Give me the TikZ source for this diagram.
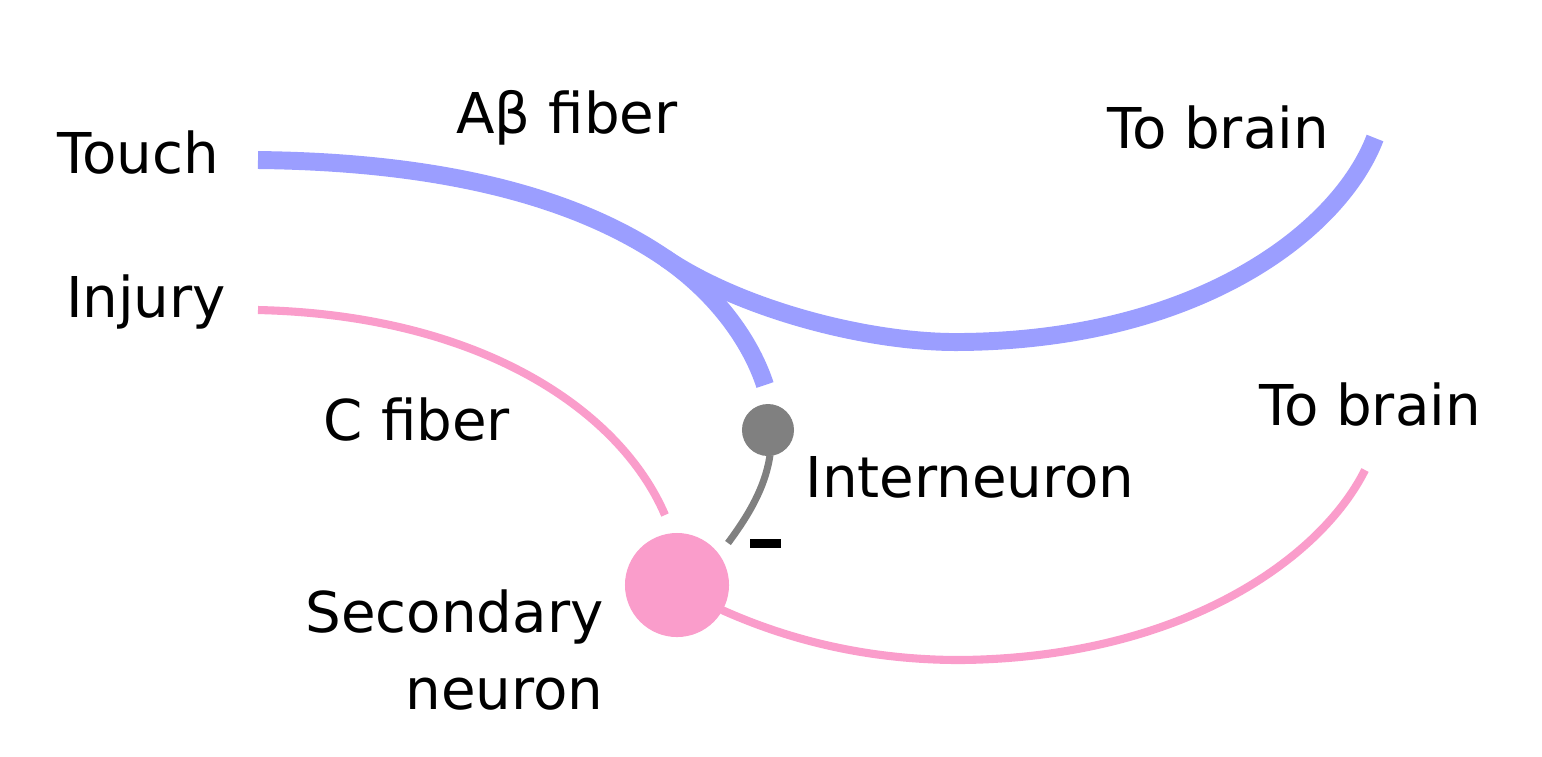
\documentclass[tikz,border=0pt]{standalone}
\usepackage{fontspec}
\setmainfont{DejaVu Sans}
\definecolor{touchblue}{HTML}{9B9EFF}
\definecolor{painpink}{HTML}{FA9DCB}
\definecolor{intergray}{HTML}{808080}
\begin{document}
\begin{tikzpicture}[x=0.01cm,y=-0.01cm,
    lbl/.style={font=\fontsize{16}{22}\selectfont,align=center},
    afiber/.style={touchblue,line width=5.1pt},
    cfiber/.style={painpink,line width=2.3pt},
    inter/.style={intergray,line width=2pt}]
    \useasboundingbox (0,0) rectangle (1542,756);

    % Labels
    \node[lbl] (touch) at (138,153) {Touch};
    \node[lbl] (afib) at (567,118) {Aβ fiber};
    \node[lbl] (brainA) at (1218,128) {To brain};
    \node[lbl] (injury) at (146,302) {Injury};
    \node[lbl] (cfib) at (417,420) {C fiber};
    \node[lbl] (internlbl) at (970,477) {Interneuron};
    \node[lbl] (brainC) at (1370,405) {To brain};
    \node[lbl,align=right,anchor=east] (seclbl) at (616,650) {Secondary\\neuron};

    % Cells
    \node[circle,fill=painpink,inner sep=0pt,minimum size=1.04cm] (sec) at (677,585) {};
    \node[circle,fill=intergray,inner sep=0pt,minimum size=0.52cm] (intern) at (768,430) {};

    % End points
    \coordinate (aStart) at (258,160);
    \coordinate (aEnd) at (765,385);
    \coordinate (aSplit) at (665,258);
    \coordinate (aLow) at (960,342);
    \coordinate (aBrain) at (1375,138);
    \coordinate (cStart) at (258,310);
    \coordinate (cEnd) at (665,515);
    \coordinate (sOut) at (722,610);
    \coordinate (sLow) at (960,660);
    \coordinate (sBrain) at (1365,470);
    \coordinate (iOut) at (770,455);
    \coordinate (iEnd) at (728,543);

    % A-beta fiber
    \draw[afiber] (aStart) .. controls (450,162) and (580,200) .. (aSplit)
        .. controls (720,296) and (752,345) .. (aEnd);
    \draw[afiber] (aSplit) .. controls (742,310) and (870,343) .. (aLow)
        .. controls (1200,340) and (1340,230) .. (aBrain);

    % C fiber
    \draw[cfiber] (cStart) .. controls (480,315) and (620,410) .. (cEnd);
    \draw[cfiber] (sOut) .. controls (800,645) and (880,660) .. (sLow)
        .. controls (1180,658) and (1320,560) .. (sBrain);

    % Interneuron
    \draw[inter] (iOut) .. controls (765,490) and (745,520) .. (iEnd);
    \fill (750,539) rectangle (781,548);
\end{tikzpicture}
\end{document}
